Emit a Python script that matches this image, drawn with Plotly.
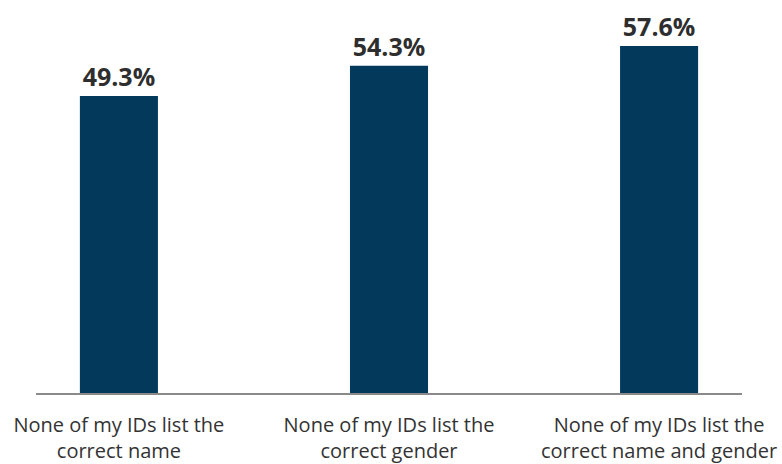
import plotly.graph_objects as go

categories = ["None of my IDs list the<br>correct name",
              "None of my IDs list the<br>correct gender",
              "None of my IDs list the<br>correct name and gender"]
values = [49.3, 54.3, 57.6]
value_labels = ["49.3%", "54.3%", "57.6%"]

fig = go.Figure()
fig.add_trace(go.Bar(
    x=categories, y=values, text=value_labels,
    textposition="outside", cliponaxis=False,
    marker=dict(color="#033a5c", line=dict(width=0)),
    width=0.289,
    textfont=dict(family="Open Sans", size=25, color="#2e2e2e", weight="bold"),
))
fig.update_layout(
    width=782, height=464,
    margin=dict(l=36, r=40, t=20, b=71),
    paper_bgcolor="white", plot_bgcolor="white",
    showlegend=False,
    font=dict(family="Open Sans", size=20, color="#333333"),
    xaxis=dict(range=[-0.307, 2.307], showline=True, linecolor="#8a8a8a", linewidth=1.5,
               showgrid=False, ticks="", ticklabelstandoff=13, automargin=False,
               tickfont=dict(family="Open Sans", size=20, color="#333333")),
    yaxis=dict(range=[0, 61.9], visible=False, showgrid=False, zeroline=False),
)
fig.write_html("out.html", config={"displayModeBar": False},
               post_script="document.body.style.margin='0';")
